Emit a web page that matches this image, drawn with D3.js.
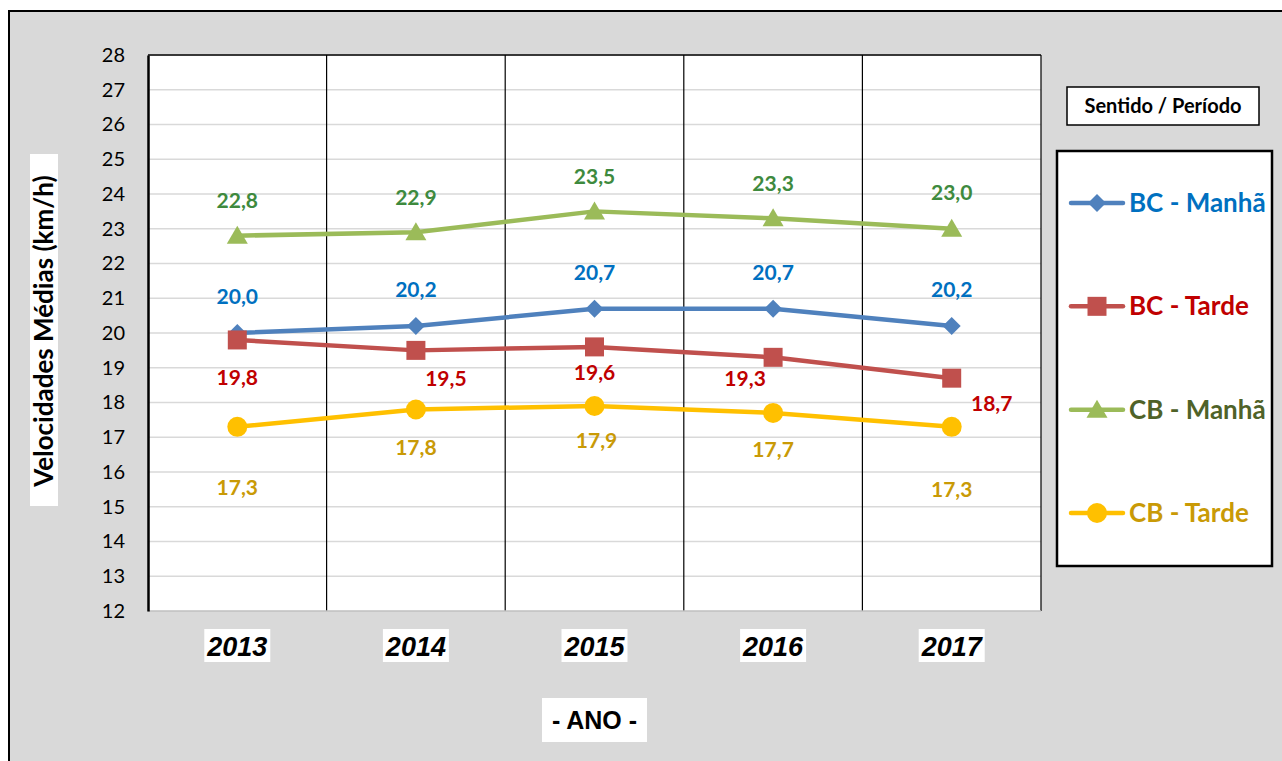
<!DOCTYPE html>
<html><head><meta charset="utf-8">
<script src="https://cdn.jsdelivr.net/npm/d3@7"></script>
<style>body{margin:0;background:#fff} svg{display:block}</style>
</head><body><svg id="chart" width="1282" height="761"></svg>
<script>
// Average speeds per year, by direction / period
const years = ["2013", "2014", "2015", "2016", "2017"];
const seriesNames = ["BC - Manhã", "BC - Tarde", "CB - Manhã", "CB - Tarde"];
const bcManha = [20.0, 20.2, 20.7, 20.7, 20.2];
const bcTarde = [19.8, 19.5, 19.6, 19.3, 18.7];
const cbManha = [22.8, 22.9, 23.5, 23.3, 23.0];
const cbTarde = [17.3, 17.8, 17.9, 17.7, 17.3];
const yTicks = [12, 13, 14, 15, 16, 17, 18, 19, 20, 21, 22, 23, 24, 25, 26, 27, 28];
const yTitle = "Velocidades Médias (km/h)";
const xTitle = "- ANO -";
const legendTitle = "Sentido / Período";

// label nudges (px) for each point, per series
const labelNudge = [
  [[0, -36], [0, -36], [0, -36], [0, -36], [0, -36]],
  [[0, 38], [30, 28], [0, 26], [-28, 21], [40, 25]],
  [[0, -35], [0, -35], [0, -35], [0, -35], [0, -36]],
  [[0, 61], [0, 38], [2, 35], [0, 37], [0, 63]]
];

const styles = [
  {line: "#4f81bd", label: "#0070c0", legend: "#0070c0", marker: "diamond"},
  {line: "#c0504d", label: "#c00000", legend: "#c00000", marker: "square"},
  {line: "#9bbb59", label: "#3e8a3e", legend: "#4f6228", marker: "triangle"},
  {line: "#ffc000", label: "#c99a06", legend: "#c99a06", marker: "circle"}
];
const seriesValues = [bcManha, bcTarde, cbManha, cbTarde];

const svg = d3.select("#chart");
const calibri = "Lato, 'Open Sans', sans-serif";
const arial = "'Liberation Sans', Arial, sans-serif";

// chart background
svg.append("rect").attr("x", 9).attr("y", 11).attr("width", 1300).attr("height", 800)
  .attr("fill", "#d9d9d9").attr("stroke", "#000").attr("stroke-width", 2);

const plot = {left: 148, right: 1041, top: 55, bottom: 611};
const x = d3.scaleBand().domain(years).range([plot.left, plot.right]);
const y = d3.scaleLinear().domain([12, 28]).range([plot.bottom, plot.top]);

svg.append("rect").attr("x", plot.left).attr("y", plot.top)
  .attr("width", plot.right - plot.left).attr("height", plot.bottom - plot.top)
  .attr("fill", "#fff");

// horizontal gridlines
svg.append("g").selectAll("line").data(yTicks.slice(1)).join("line")
  .attr("x1", plot.left).attr("x2", plot.right)
  .attr("y1", d => y(d)).attr("y2", d => y(d))
  .attr("stroke", "#d9d9d9").attr("stroke-width", 1.5);

// vertical category separators
svg.append("g").selectAll("line").data(years.slice(1)).join("line")
  .attr("x1", d => x(d)).attr("x2", d => x(d))
  .attr("y1", plot.top).attr("y2", plot.bottom)
  .attr("stroke", "#000").attr("stroke-width", 1.2);

// plot frame
svg.append("line").attr("x1", plot.left).attr("x2", plot.right).attr("y1", plot.top).attr("y2", plot.top)
  .attr("stroke", "#000").attr("stroke-width", 1.5);
svg.append("line").attr("x1", plot.right).attr("x2", plot.right).attr("y1", plot.top).attr("y2", plot.bottom)
  .attr("stroke", "#000").attr("stroke-width", 1.2);
svg.append("line").attr("x1", plot.left).attr("x2", plot.right).attr("y1", plot.bottom).attr("y2", plot.bottom)
  .attr("stroke", "#bfbfbf").attr("stroke-width", 1.5);

// y axis
const yAxis = d3.axisLeft(y).tickValues(yTicks).tickSize(0).tickPadding(23);
const gy = svg.append("g").attr("transform", `translate(${plot.left},0)`).call(yAxis);
gy.select(".domain").attr("stroke", "#000").attr("stroke-width", 2.5);
gy.selectAll("text").attr("font-family", calibri).attr("font-size", 20).attr("fill", "#000");

// x axis labels with white boxes
const gx = svg.append("g").attr("transform", `translate(0,${plot.bottom})`)
  .call(d3.axisBottom(x).tickSize(0).tickPadding(0));
gx.select(".domain").remove();
gx.selectAll(".tick text").remove();
gx.selectAll(".tick").each(function(d) {
  const g = d3.select(this);
  g.append("rect").attr("x", -33).attr("y", 18).attr("width", 66).attr("height", 33).attr("fill", "#fff");
  g.append("text").attr("y", 45).attr("text-anchor", "middle")
    .attr("font-family", arial).attr("font-weight", "bold").attr("font-style", "italic")
    .attr("font-size", 27).attr("fill", "#000").text(d);
});

// axis titles
svg.append("rect").attr("x", 542).attr("y", 698).attr("width", 105).attr("height", 44).attr("fill", "#fff");
svg.append("text").attr("x", 594.5).attr("y", 729).attr("text-anchor", "middle")
  .attr("font-family", arial).attr("font-weight", "bold").attr("font-size", 25).text(xTitle);

svg.append("rect").attr("x", 30).attr("y", 154).attr("width", 28).attr("height", 352).attr("fill", "#fff");
svg.append("text").attr("transform", "translate(53,331) rotate(-90)").attr("text-anchor", "middle")
  .attr("font-family", calibri).attr("font-weight", "bold").attr("font-size", 26).text(yTitle);

// marker shapes
function markerPath(kind) {
  if (kind === "diamond") return "M0,-9L9,0L0,9L-9,0Z";
  if (kind === "square") return "M-9.5,-9.5H9.5V9.5H-9.5Z";
  if (kind === "triangle") return "M0,-10L10.5,8L-10.5,8Z";
  return d3.symbol(d3.symbolCircle, Math.PI * 100)();
}

const line = d3.line().x((d, i) => x(years[i]) + x.bandwidth() / 2).y(d => y(d));

seriesValues.forEach((vals, s) => {
  const st = styles[s];
  const g = svg.append("g");
  g.append("path").datum(vals).attr("d", line).attr("fill", "none")
    .attr("stroke", st.line).attr("stroke-width", 4.5).attr("stroke-linejoin", "round");
  g.selectAll("path.m").data(vals).join("path").attr("class", "m")
    .attr("transform", (d, i) => `translate(${x(years[i]) + x.bandwidth() / 2},${y(d)})`)
    .attr("d", markerPath(st.marker)).attr("fill", st.line);
});

// data labels drawn above the lines
seriesValues.forEach((vals, s) => {
  const st = styles[s];
  svg.append("g").selectAll("text").data(vals).join("text")
    .attr("x", (d, i) => x(years[i]) + x.bandwidth() / 2 + labelNudge[s][i][0])
    .attr("y", (d, i) => y(d) + labelNudge[s][i][1])
    .attr("dy", "0.35em").attr("text-anchor", "middle")
    .attr("font-family", calibri).attr("font-weight", "bold").attr("font-size", 21)
    .attr("fill", st.label)
    .text(d => d.toFixed(1).replace(".", ","));
});

// legend title
svg.append("rect").attr("x", 1067).attr("y", 87).attr("width", 192).attr("height", 38)
  .attr("fill", "#fff").attr("stroke", "#000").attr("stroke-width", 1.5);
svg.append("text").attr("x", 1163).attr("y", 106).attr("dy", "0.35em").attr("text-anchor", "middle")
  .attr("font-family", calibri).attr("font-weight", "bold").attr("font-size", 20).text(legendTitle);

// legend
svg.append("rect").attr("x", 1057).attr("y", 151).attr("width", 215).attr("height", 415)
  .attr("fill", "#fff").attr("stroke", "#000").attr("stroke-width", 2.5);
const legendY = d3.scalePoint().domain(seriesNames).range([203, 513]);
seriesNames.forEach((name, s) => {
  const st = styles[s];
  const ly = legendY(name);
  svg.append("line").attr("x1", 1071).attr("x2", 1123).attr("y1", ly).attr("y2", ly)
    .attr("stroke", st.line).attr("stroke-width", 4.5).attr("stroke-linecap", "round");
  svg.append("path").attr("transform", `translate(1097,${ly})`).attr("d", markerPath(st.marker)).attr("fill", st.line);
  svg.append("text").attr("x", 1129).attr("y", ly).attr("dy", "0.35em")
    .attr("font-family", calibri).attr("font-weight", "bold").attr("font-size", 26)
    .attr("fill", st.legend).text(name);
});
</script></body></html>
